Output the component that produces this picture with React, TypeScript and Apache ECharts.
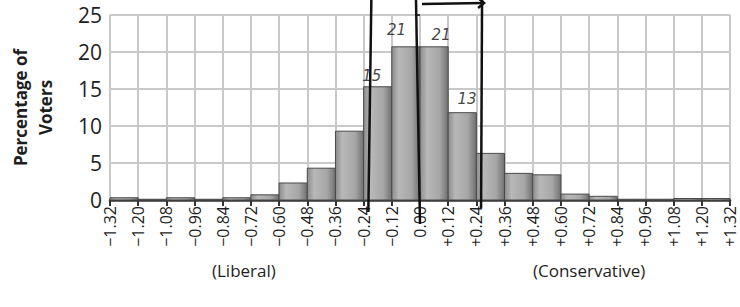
import React, { useEffect, useRef } from 'react';
import * as echarts from 'echarts';

const binStart = -1.32;
const binWidth = 0.12;
const tickLabels = [
  '−1.32', '−1.20', '−1.08', '−0.96', '−0.84', '−0.72', '−0.60', '−0.48', '−0.36', '−0.24', '−0.12',
  '0.00',
  '+0.12', '+0.24', '+0.36', '+0.48', '+0.60', '+0.72', '+0.84', '+0.96', '+1.08', '+1.20', '+1.32',
];
const percentages = [0.3, 0.1, 0.3, 0.1, 0.3, 0.7, 2.3, 4.3, 9.3, 15.3, 20.7, 20.7, 11.8, 6.3, 3.6, 3.4, 0.8, 0.5, 0.1, 0.1, 0.2, 0.2];
const yAxisName = 'Percentage of\nVoters';
const sideLabels = ['(Liberal)', '(Conservative)'];
const sideLabelX = [-0.75, 0.72];
const handNotes = ['15', '21', '21', '13'];
const handNoteX = [-0.205, -0.1, 0.09, 0.2];
const handNoteY = [16.8, 23.0, 22.3, 13.6];
const handLineX = [-0.22, 0.0, 0.26];

export default function App() {
  const ref = useRef<HTMLDivElement>(null);
  useEffect(() => {
    if (!ref.current) return;
    const chart = echarts.init(ref.current, undefined, { renderer: 'svg' });
    const bins = percentages.map((v, i) => [binStart + i * binWidth, binStart + (i + 1) * binWidth, v]);
    const font = '"Open Sans", "Noto Sans", sans-serif';
    chart.setOption({
      animation: false,
      backgroundColor: '#ffffff',
      grid: { left: 100, right: 10, top: 15, bottom: 107 },
      xAxis: {
        type: 'value',
        min: binStart,
        max: -binStart,
        interval: binWidth,
        axisLine: { show: true, onZero: false, lineStyle: { color: '#333', width: 2.5 } },
        axisTick: { show: true, length: 6, lineStyle: { color: '#333', width: 2 } },
        splitLine: { show: true, lineStyle: { color: '#c9c9c9', width: 2 } },
        axisLabel: {
          rotate: 90,
          fontSize: 16,
          color: '#1e1e1e',
          fontFamily: font,
          margin: 6,
          showMinLabel: true,
          showMaxLabel: true,
          formatter: (v: number) => tickLabels[Math.round((v - binStart) / binWidth)] ?? '',
        },
      },
      yAxis: {
        type: 'value',
        min: 0,
        max: 25,
        interval: 5,
        name: yAxisName,
        nameLocation: 'middle',
        nameGap: 52,
        nameRotate: 90,
        nameTextStyle: { fontSize: 17, fontWeight: 'bold', color: '#1e1e1e', fontFamily: font, lineHeight: 25 },
        axisLine: { show: false },
        axisTick: { show: true, length: 5, lineStyle: { color: '#333', width: 2 } },
        splitLine: { show: true, lineStyle: { color: '#c9c9c9', width: 2 } },
        axisLabel: { fontSize: 21, color: '#1e1e1e', fontFamily: font, margin: 8 },
      },
      series: [
        {
          type: 'custom',
          data: bins,
          z: 2,
          renderItem: (params: any, api: any) => {
            const p0 = api.coord([api.value(0), api.value(2)]);
            const p1 = api.coord([api.value(1), 0]);
            return {
              type: 'rect',
              shape: { x: p0[0], y: p0[1], width: p1[0] - p0[0], height: p1[1] - p0[1] },
              style: {
                fill: new echarts.graphic.LinearGradient(0, 0, 1, 0, [
                  { offset: 0, color: '#8c8c8c' },
                  { offset: 0.25, color: '#b8b8b8' },
                  { offset: 0.7, color: '#a6a6a6' },
                  { offset: 1, color: '#707070' },
                ]),
                stroke: '#4a4a4a',
                lineWidth: 1,
              },
            };
          },
        },
        {
          type: 'scatter',
          symbolSize: 0,
          z: 5,
          data: handNotes.map((t, i) => ({ value: [handNoteX[i], handNoteY[i]], name: t })),
          label: {
            show: true,
            position: 'inside',
            formatter: (p: any) => p.name,
            fontSize: 15,
            fontStyle: 'italic',
            color: '#111',
            fontFamily: '"DejaVu Sans", sans-serif',
          },
        },
      ],
    });

    const px = (x: number, y: number) => chart.convertToPixel({ gridIndex: 0 }, [x, y]) as number[];
    const baseY = px(0, 0)[1];
    const lineBottoms = [baseY + 12, baseY + 24, baseY + 8];
    const lineTilt = [-3, 4, -1];
    const lx = handLineX.map((x) => px(x, 0)[0]);
    const graphics: any[] = handLineX.map((x, i) => ({
      type: 'line',
      z: 100,
      shape: { x1: lx[i] - lineTilt[i], y1: 0, x2: lx[i], y2: lineBottoms[i] },
      style: { stroke: '#111', lineWidth: 2.5 },
    }));
    graphics.push({
      type: 'polyline',
      z: 100,
      shape: { points: [[lx[1] + 2, 4], [lx[2] + 3, 3]] },
      style: { stroke: '#111', lineWidth: 2.5, fill: 'none' },
    });
    graphics.push({
      type: 'polyline',
      z: 100,
      shape: { points: [[lx[2] - 3, -2], [lx[2] + 3, 3], [lx[2] - 3, 8]] },
      style: { stroke: '#111', lineWidth: 2.5, fill: 'none' },
    });
    sideLabels.forEach((t, i) => {
      graphics.push({
        type: 'text',
        z: 100,
        x: px(sideLabelX[i], 0)[0],
        y: 270,
        style: { text: t, fontSize: 17, fill: '#1e1e1e', fontFamily: font, align: 'center', verticalAlign: 'middle' },
      });
    });
    chart.setOption({ graphic: graphics });
    return () => chart.dispose();
  }, []);
  return <div ref={ref} style={{ width: 740, height: 307, position: 'absolute', left: 0, top: 0 }} />;
}
